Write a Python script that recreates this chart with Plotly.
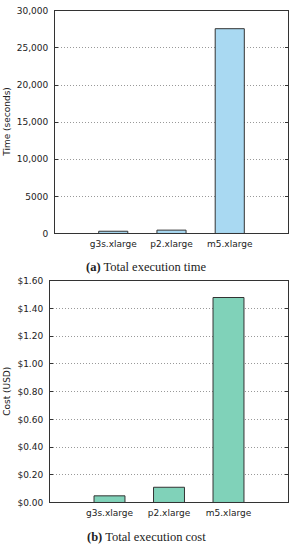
import plotly.graph_objects as go

categories = ["g3s.xlarge", "p2.xlarge", "m5.xlarge"]
time_seconds = [300, 450, 27600]
cost_usd = [0.048, 0.11, 1.48]

time_ticks = [0, 5000, 10000, 15000, 20000, 25000, 30000]
time_ticklabels = ["0", "5000", "10,000", "15,000", "20,000", "25,000", "30,000"]
cost_ticks = [0, 0.2, 0.4, 0.6, 0.8, 1.0, 1.2, 1.4, 1.6]
cost_ticklabels = ["$0.00", "$0.20", "$0.40", "$0.60", "$0.80", "$1.00", "$1.20", "$1.40", "$1.60"]

W, H = 293, 550
tick_font = dict(family="DejaVu Sans", size=9, color="#222")

fig = go.Figure()
fig.add_trace(go.Bar(x=[0, 1, 2], y=time_seconds, width=0.5,
                     marker=dict(color="#a9d9f2", line=dict(color="#333", width=1)),
                     xaxis="x", yaxis="y", showlegend=False))
fig.add_trace(go.Bar(x=[0, 1, 2], y=cost_usd, width=0.52,
                     marker=dict(color="#80d2b9", line=dict(color="#333", width=1)),
                     xaxis="x2", yaxis="y2", showlegend=False))

def xax(domain, anchor):
    return dict(domain=domain, anchor=anchor, range=[-1, 3], tickvals=[0, 1, 2],
                ticktext=categories, tickfont=tick_font, showgrid=False,
                showline=True, linecolor="#333", linewidth=1, mirror=True,
                ticks="", ticklabelstandoff=2, zeroline=False, fixedrange=True)

def yax(domain, anchor, rng, tv, tt):
    return dict(domain=domain, anchor=anchor, range=rng, tickvals=tv, ticktext=tt,
                tickfont=tick_font, showgrid=True, gridcolor="#999", griddash="1px,2px",
                gridwidth=1, showline=True, linecolor="#333", linewidth=1,
                mirror="ticks", ticks="inside", ticklen=3, tickcolor="#333",
                ticklabelstandoff=4, zeroline=False, fixedrange=True)

fig.update_layout(
    width=W, height=H, margin=dict(l=0, r=0, t=0, b=0),
    paper_bgcolor="white", plot_bgcolor="white",
    xaxis=xax([55 / W, 288 / W], "y"),
    yaxis=yax([(H - 232.7) / H, (H - 6) / H], "x", [0, 30000], time_ticks, time_ticklabels),
    xaxis2=xax([50 / W, 288 / W], "y2"),
    yaxis2=yax([(H - 506.7) / H, (H - 281) / H], "x2", [0, 1.6], cost_ticks, cost_ticklabels),
    annotations=[
        dict(text="Time (seconds)", x=7 / W, y=(H - 119) / H, xref="paper", yref="paper",
             xanchor="center", yanchor="middle",
             textangle=-90, showarrow=False, font=dict(family="DejaVu Sans", size=9, color="#222")),
        dict(text="Cost (USD)", x=7 / W, y=(H - 394) / H, xref="paper", yref="paper",
             xanchor="center", yanchor="middle",
             textangle=-90, showarrow=False, font=dict(family="DejaVu Sans", size=9, color="#222")),
        dict(text="<b>(a)</b> Total execution time", x=146 / W, y=(H - 267) / H,
             xref="paper", yref="paper", showarrow=False, xanchor="center", yanchor="middle",
             font=dict(family="Liberation Serif", size=12.5, color="#222")),
        dict(text="<b>(b)</b> Total execution cost", x=146 / W, y=(H - 542) / H,
             xref="paper", yref="paper", showarrow=False, xanchor="center", yanchor="middle",
             font=dict(family="Liberation Serif", size=12.5, color="#222")),
    ],
)

fig.write_html("out.html", config={"displayModeBar": False},
               post_script="document.body.style.margin='0';")
